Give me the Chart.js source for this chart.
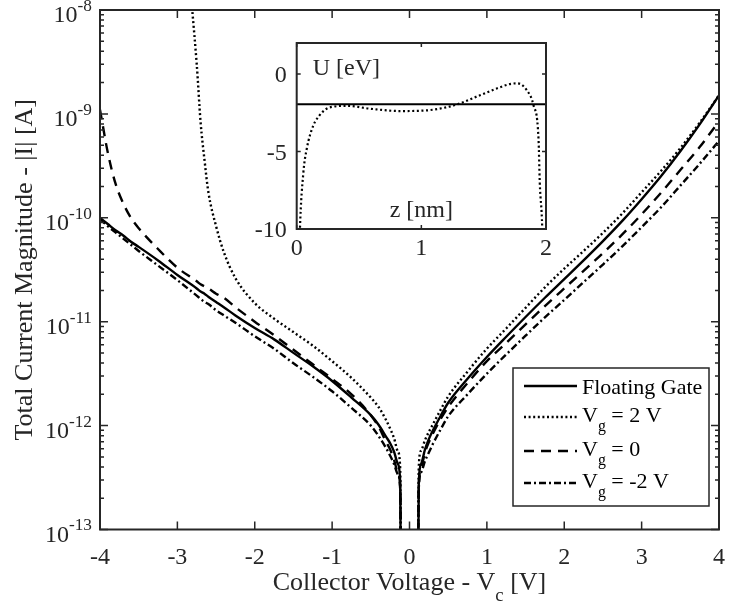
<!DOCTYPE html>
<html>
<head>
<meta charset="utf-8">
<script src="https://cdn.jsdelivr.net/npm/chart.js@4.4.0/dist/chart.umd.min.js"></script>
<style>
  body { margin: 0; background: #fff; }
  #wrap { position: relative; width: 729px; height: 608px; }
  #main { position: absolute; left: 0; top: 0; }
  #inset { position: absolute; left: 240px; top: 30px; }
</style>
</head>
<body>
<div id="wrap">
  <canvas id="main" width="729" height="608"></canvas>
  <canvas id="inset" width="320" height="240"></canvas>
</div>
<script>
// collector voltage grid [V]; 0 is a gap between the two branches
const voltage = [-4, -3.9, -3.8, -3.7, -3.6, -3.5, -3.25, -3, -2.75, -2.7, -2.65, -2.6, -2.5, -2.4, -2.25, -2,
  -1.75, -1.5, -1.25, -1, -0.75, -0.5, -0.4, -0.3, -0.25, -0.2, -0.15, -0.12, -0.1,
  0,
  0.1, 0.12, 0.15, 0.2, 0.25, 0.3, 0.4, 0.5, 0.75, 1, 1.25, 1.5, 1.75, 2, 2.25, 2.5, 2.75, 3, 3.25, 3.5, 3.75, 4];

// |I| [A]
const currentFloating = [1.00e-10, 8.71e-11, 7.59e-11, 6.76e-11, 5.89e-11, 5.25e-11, 3.89e-11, 2.82e-11, 2.09e-11, 1.95e-11,
  1.86e-11, 1.74e-11, 1.55e-11, 1.38e-11, 1.15e-11, 8.71e-12, 6.76e-12, 5.01e-12, 3.72e-12, 2.69e-12, 1.86e-12, 1.26e-12,
  1.02e-12, 7.76e-13, 6.76e-13, 5.62e-13, 4.27e-13, 2.82e-13, 1e-15,
  null,
  1e-15, 2.82e-13, 4.27e-13, 5.89e-13, 7.41e-13, 8.91e-13, 1.23e-12, 1.66e-12, 2.82e-12, 4.57e-12, 7.16e-12, 1.11e-11,
  1.70e-11, 2.57e-11, 3.89e-11, 5.96e-11, 9.33e-11, 1.51e-10, 2.51e-10, 4.37e-10, 7.94e-10, 1.51e-9];
const currentVg2 = [null, null, null, null, null, null, null, 3.0e-7, 3.02e-9, 8.32e-10,
  3.63e-10, 1.78e-10, 8.32e-11, 4.68e-11, 2.63e-11, 1.51e-11, 1.07e-11, 7.94e-12, 5.89e-12, 4.17e-12, 2.88e-12, 1.86e-12,
  1.51e-12, 1.12e-12, 9.33e-13, 7.59e-13, 5.62e-13, 3.80e-13, 1e-15,
  null,
  1e-15, 3.98e-13, 5.75e-13, 7.24e-13, 8.71e-13, 1.02e-12, 1.41e-12, 1.91e-12, 3.31e-12, 5.50e-12, 8.61e-12, 1.36e-11,
  2.14e-11, 3.24e-11, 4.79e-11, 7.16e-11, 1.10e-10, 1.76e-10, 2.82e-10, 4.68e-10, 8.22e-10, 1.51e-9];
const currentVg0 = [1.10e-9, 4.27e-10, 2.14e-10, 1.38e-10, 1.00e-10, 7.94e-11, 5.01e-11, 3.31e-11, 2.45e-11, 2.29e-11,
  2.19e-11, 2.09e-11, 1.86e-11, 1.70e-11, 1.38e-11, 1.00e-11, 7.41e-12, 5.37e-12, 3.89e-12, 2.82e-12, 2.00e-12, 1.26e-12,
  9.77e-13, 6.92e-13, 5.89e-13, 4.68e-13, 3.55e-13, 2.51e-13, 1e-15,
  null,
  1e-15, 2.63e-13, 3.98e-13, 5.50e-13, 6.92e-13, 8.32e-13, 1.15e-12, 1.51e-12, 2.57e-12, 4.17e-12, 6.24e-12, 9.44e-12,
  1.41e-11, 2.09e-11, 3.09e-11, 4.57e-11, 6.92e-11, 1.08e-10, 1.74e-10, 2.88e-10, 4.79e-10, 8.51e-10];
const currentVgm2 = [9.77e-11, 8.32e-11, 7.24e-11, 6.31e-11, 5.50e-11, 4.79e-11, 3.47e-11, 2.51e-11, 1.78e-11, 1.66e-11,
  1.55e-11, 1.48e-11, 1.29e-11, 1.15e-11, 9.77e-12, 7.24e-12, 5.50e-12, 3.98e-12, 2.95e-12, 2.14e-12, 1.48e-12, 1.00e-12,
  7.94e-13, 6.03e-13, 5.13e-13, 4.27e-13, 3.39e-13, 2.40e-13, 1e-15,
  null,
  1e-15, 2.51e-13, 3.55e-13, 4.57e-13, 5.50e-13, 6.61e-13, 9.12e-13, 1.23e-12, 2.00e-12, 3.16e-12, 4.84e-12, 7.33e-12,
  1.10e-11, 1.62e-11, 2.40e-11, 3.55e-11, 5.31e-11, 8.13e-11, 1.26e-10, 2.04e-10, 3.31e-10, 5.50e-10];

const seriesNames = ['Floating Gate', 'V_g = 2 V', 'V_g = 0', 'V_g = -2 V'];
const xTicks = [-4, -3, -2, -1, 0, 1, 2, 3, 4];
const yDecades = [-13, -12, -11, -10, -9, -8];
const xTitle = 'Collector Voltage - V_c [V]';
const yTitle = 'Total Current Magnitude - |I| [A]';

// inset: potential profile
const insetZ = [0.02, 0.026, 0.053, 0.08, 0.133, 0.18, 0.24, 0.3, 0.4, 0.59, 0.83, 1.04, 1.2, 1.28, 1.47, 1.6,
  1.71, 1.77, 1.845, 1.9, 1.94, 1.95, 1.97, 1.975];
const insetU = [-12, -10, -6.4, -4.85, -3.33, -2.7, -2.24, -2.1, -2.05, -2.24, -2.39, -2.35, -2.15, -1.98, -1.37, -0.95,
  -0.65, -0.6, -1.04, -2.02, -4.2, -7.0, -10, -12];
const levelZ = [0, 2];
const levelU = [-1.95, -1.95];
const insetXTicks = [0, 1, 2];
const insetYTicks = [-10, -5, 0];

const ink = '#262626';
const FONT = '"Liberation Serif", "Times New Roman", serif';
const dashes = [[], [2, 2.6], [10, 7], [7, 3, 2, 3]];

function pts(xs, ys) {
  return xs.map((x, i) => ({ x: x, y: ys[i] }));
}

function richSegments(text) {
  const segs = [];
  let i = 0, buf = '';
  while (i < text.length) {
    const c = text[i];
    if (c === '_' || c === '^') {
      if (buf) { segs.push({ t: buf, k: 0 }); buf = ''; }
      let s;
      if (text[i + 1] === '{') { const j = text.indexOf('}', i); s = text.slice(i + 2, j); i = j + 1; }
      else { s = text[i + 1]; i += 2; }
      segs.push({ t: s, k: c === '_' ? 1 : -1 });
    } else { buf += c; i++; }
  }
  if (buf) segs.push({ t: buf, k: 0 });
  return segs;
}

function drawRich(ctx, text, x, y, size, align) {
  const segs = richSegments(text);
  let w = 0;
  segs.forEach(s => {
    s.size = s.k ? size * 0.72 : size;
    ctx.font = s.size + 'px ' + FONT;
    s.w = ctx.measureText(s.t).width;
    w += s.w;
  });
  let cx = align === 'center' ? x - w / 2 : align === 'right' ? x - w : x;
  ctx.textAlign = 'left';
  ctx.textBaseline = 'alphabetic';
  segs.forEach(s => {
    ctx.font = s.size + 'px ' + FONT;
    const dy = s.k === 1 ? size * 0.42 : s.k === -1 ? -size * 0.46 : 0;
    ctx.fillText(s.t, cx, y + dy);
    cx += s.w;
  });
}

const mainFrame = {
  id: 'mainFrame',
  afterDatasetsDraw(chart) {
    const { ctx, chartArea: a, scales: { x, y } } = chart;
    ctx.save();
    ctx.strokeStyle = ink;
    ctx.fillStyle = ink;
    ctx.lineWidth = 1.5;
    ctx.beginPath();
    xTicks.forEach(v => {
      const px = x.getPixelForValue(v);
      ctx.moveTo(px, a.bottom); ctx.lineTo(px, a.bottom - 8);
      ctx.moveTo(px, a.top); ctx.lineTo(px, a.top + 8);
    });
    yDecades.forEach(e => {
      for (let m = 1; m <= 9; m++) {
        if (e === yDecades[yDecades.length - 1] && m > 1) break;
        const py = y.getPixelForValue(Number(m + 'e' + e));
        const len = m === 1 ? 8 : 4;
        ctx.moveTo(a.left, py); ctx.lineTo(a.left + len, py);
        ctx.moveTo(a.right, py); ctx.lineTo(a.right - len, py);
      }
    });
    ctx.stroke();
    ctx.lineWidth = 2;
    ctx.strokeRect(a.left, a.top, a.width, a.height);

    // tick labels
    ctx.font = '24px ' + FONT;
    ctx.textAlign = 'center';
    ctx.textBaseline = 'alphabetic';
    xTicks.forEach(v => ctx.fillText(String(v), x.getPixelForValue(v), a.bottom + 34));
    yDecades.forEach(e => {
      const py = y.getPixelForValue(Number('1e' + e));
      drawRich(ctx, '10^{' + e + '}', a.left - 8, py + 12, 24, 'right');
    });

    // axis titles
    drawRich(ctx, xTitle, (a.left + a.right) / 2, 590, 26, 'center');
    ctx.save();
    ctx.translate(32, (a.top + a.bottom) / 2);
    ctx.rotate(-Math.PI / 2);
    drawRich(ctx, yTitle, 0, 0, 26, 'center');
    ctx.restore();

    // legend
    const bx = 513, by = 368, bw = 196, bh = 138;
    ctx.fillStyle = '#fff';
    ctx.fillRect(bx, by, bw, bh);
    ctx.lineWidth = 1.5;
    ctx.strokeStyle = ink;
    ctx.strokeRect(bx, by, bw, bh);
    const rows = [386, 417, 451, 483];
    seriesNames.forEach((name, i) => {
      ctx.save();
      ctx.strokeStyle = '#000';
      ctx.lineWidth = 2.4;
      ctx.setLineDash(dashes[i]);
      ctx.beginPath();
      ctx.moveTo(524, rows[i]);
      ctx.lineTo(577, rows[i]);
      ctx.stroke();
      ctx.restore();
      ctx.fillStyle = '#000';
      drawRich(ctx, name, 582, rows[i] + (i === 0 ? 8 : 5), 22, 'left');
    });
    ctx.restore();
  }
};

const series = [currentFloating, currentVg2, currentVg0, currentVgm2];
new Chart(document.getElementById('main'), {
  type: 'line',
  data: {
    datasets: series.map((s, i) => ({
      label: seriesNames[i],
      data: pts(voltage, s),
      borderColor: '#000',
      borderWidth: 2.4,
      borderDash: dashes[i],
      pointRadius: 0,
      fill: false,
      spanGaps: false,
      cubicInterpolationMode: 'monotone'
    }))
  },
  options: {
    responsive: false,
    animation: false,
    devicePixelRatio: 1,
    layout: { padding: { left: 100, right: 10, top: 10, bottom: 78.5 } },
    scales: {
      x: { type: 'linear', min: -4, max: 4, display: false },
      y: { type: 'logarithmic', min: 1e-13, max: 1e-8, display: false }
    },
    plugins: { legend: { display: false }, tooltip: { enabled: false } }
  },
  plugins: [mainFrame]
});

const insetFrame = {
  id: 'insetFrame',
  beforeDatasetsDraw(chart) {
    const { ctx, chartArea: a } = chart;
    ctx.save();
    ctx.fillStyle = '#fff';
    ctx.fillRect(a.left, a.top, a.width, a.height);
    ctx.restore();
  },
  afterDatasetsDraw(chart) {
    const { ctx, chartArea: a, scales: { x, y } } = chart;
    ctx.save();
    ctx.strokeStyle = ink;
    ctx.fillStyle = ink;
    ctx.lineWidth = 1.5;
    ctx.beginPath();
    insetXTicks.forEach(v => {
      const px = x.getPixelForValue(v);
      ctx.moveTo(px, a.bottom); ctx.lineTo(px, a.bottom - 4);
      ctx.moveTo(px, a.top); ctx.lineTo(px, a.top + 4);
    });
    insetYTicks.forEach(v => {
      const py = y.getPixelForValue(v);
      ctx.moveTo(a.left, py); ctx.lineTo(a.left + 4, py);
      ctx.moveTo(a.right, py); ctx.lineTo(a.right - 4, py);
    });
    ctx.stroke();
    ctx.lineWidth = 2;
    ctx.strokeRect(a.left, a.top, a.width, a.height);
    ctx.font = '24px ' + FONT;
    ctx.textBaseline = 'alphabetic';
    ctx.textAlign = 'center';
    insetXTicks.forEach(v => ctx.fillText(String(v), x.getPixelForValue(v), a.bottom + 26));
    ctx.textAlign = 'right';
    insetYTicks.forEach(v => ctx.fillText(String(v), a.left - 10, y.getPixelForValue(v) + 8));
    ctx.textAlign = 'left';
    ctx.fillText('U [eV]', a.left + 16, a.top + 32);
    ctx.textAlign = 'center';
    ctx.fillText('z [nm]', x.getPixelForValue(1), a.bottom - 12);
    ctx.restore();
  }
};

new Chart(document.getElementById('inset'), {
  type: 'line',
  data: {
    datasets: [
      { data: pts(levelZ, levelU), borderColor: '#000', borderWidth: 2, pointRadius: 0, tension: 0 },
      { data: pts(insetZ, insetU), borderColor: '#000', borderWidth: 2.2, borderDash: [2, 2.6], pointRadius: 0,
        cubicInterpolationMode: 'monotone' }
    ]
  },
  options: {
    responsive: false,
    animation: false,
    devicePixelRatio: 1,
    layout: { padding: { left: 56.7, right: 14, top: 13, bottom: 41 } },
    scales: {
      x: { type: 'linear', min: 0, max: 2, display: false },
      y: { type: 'linear', min: -10, max: 2, display: false }
    },
    plugins: { legend: { display: false }, tooltip: { enabled: false } }
  },
  plugins: [insetFrame]
});
</script>
</body>
</html>
